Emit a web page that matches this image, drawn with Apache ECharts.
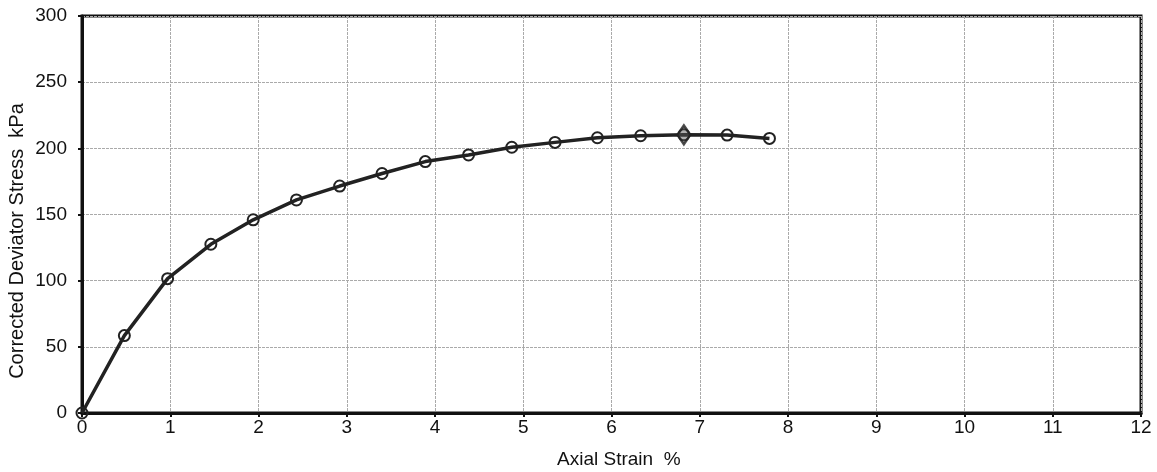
<!DOCTYPE html>
<html>
<head>
<meta charset="utf-8">
<script src="https://cdn.jsdelivr.net/npm/echarts@6/dist/echarts.min.js"></script>
<style>
html,body{margin:0;padding:0;background:#fff;}
#chart{width:1157px;height:472px;}
</style>
</head>
<body>
<div id="chart"></div>
<script>
const strain = [0, 0.48, 0.97, 1.46, 1.94, 2.43, 2.92, 3.40, 3.89, 4.38, 4.87, 5.36, 5.84, 6.33, 6.82, 7.31, 7.79];
const stress = [0, 58.5, 101.5, 127.5, 146, 161, 171.5, 181, 190, 195, 200.8, 204.5, 208, 209.5, 210.2, 210, 207.5];
const peakStrain = [6.82];
const peakStress = [210.2];
const xTitle = 'Axial Strain  %';
const yTitle = 'Corrected Deviator Stress  kPa';

const chart = echarts.init(document.getElementById('chart'));
const font = 'Liberation Sans, Arial, sans-serif';
chart.setOption({
  animation: false,
  backgroundColor: '#fff',
  grid: {left: 82, right: 16, top: 16, bottom: 59, show: true, borderColor: '#111', borderWidth: 3},
  xAxis: {
    type: 'value', min: 0, max: 12, interval: 1,
    axisLine: {lineStyle: {color: '#111', width: 3}},
    axisTick: {show: true, length: 4, lineStyle: {color: '#111', width: 2}},
    axisLabel: {color: '#111', fontSize: 19, fontFamily: font, margin: 5},
    splitLine: {show: true, lineStyle: {color: '#aaa', width: 1, type: [3, 1]}}
  },
  yAxis: {
    type: 'value', min: 0, max: 300, interval: 50,
    axisLine: {lineStyle: {color: '#111', width: 3}},
    axisTick: {show: true, length: 4, lineStyle: {color: '#111', width: 2}},
    axisLabel: {color: '#111', fontSize: 19, fontFamily: font, margin: 15},
    splitLine: {show: true, lineStyle: {color: '#aaa', width: 1, type: [3, 1]}}
  },
  graphic: [
    {type: 'text', left: 557, top: 450, style: {text: xTitle, font: '19px ' + font, fill: '#111'}},
    {type: 'text', x: 7, y: 241, rotation: Math.PI / 2, style: {text: yTitle, font: '20px ' + font, fill: '#111', align: 'center', verticalAlign: 'top'}}
  ],
  series: [
    {
      type: 'line',
      data: strain.map((x, i) => [x, stress[i]]),
      symbol: 'circle', symbolSize: 11,
      lineStyle: {color: '#222', width: 3.5},
      itemStyle: {color: 'rgba(255,255,255,0)', borderColor: '#222', borderWidth: 2},
      z: 3
    },
    {
      type: 'scatter',
      data: peakStrain.map((x, i) => [x, peakStress[i]]),
      symbol: 'diamond', symbolSize: [13, 19],
      itemStyle: {color: 'rgba(90,90,90,0.6)', borderColor: '#222', borderWidth: 2.5},
      z: 4
    }
  ]
});
</script>
</body>
</html>
